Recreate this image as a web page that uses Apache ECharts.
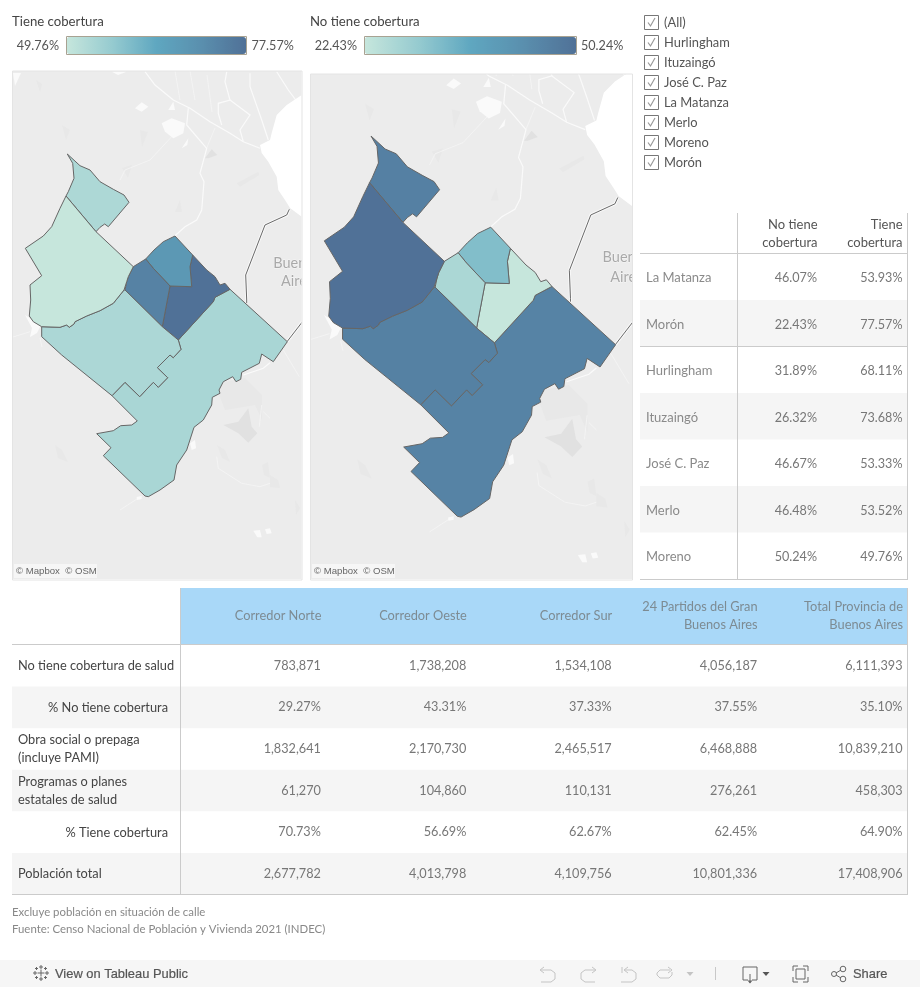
<!DOCTYPE html>
<html><head><meta charset="utf-8">
<script src="https://cdn.jsdelivr.net/npm/echarts@6/dist/echarts.min.js"></script>
<style>html,body{margin:0;padding:0;background:#fff}#c{width:920px;height:987px}</style>
</head><body><div id="c"></div>
<script>
const FONT = 'Lato';
// ---- data ----
const partidos = ['La Matanza','Morón','Hurlingham','Ituzaingó','José C. Paz','Merlo','Moreno'];
const noTiene = [46.07,22.43,31.89,26.32,46.67,46.48,50.24];
const tiene = [53.93,77.57,68.11,73.68,53.33,53.52,49.76];
const filterItems = ['(All)','Hurlingham','Ituzaingó','José C. Paz','La Matanza','Merlo','Moreno','Morón'];
const corredores = ['Corredor Norte','Corredor Oeste','Corredor Sur','24 Partidos del Gran\nBuenos Aires','Total Provincia de\nBuenos Aires'];
const filas = ['No tiene cobertura de salud','% No tiene cobertura','Obra social o prepaga\n(incluye PAMI)','Programas o planes\nestatales de salud','% Tiene cobertura','Población total'];
const sinCobertura = [783871,1738208,1534108,4056187,6111393];
const pctSin = [29.27,43.31,37.33,37.55,35.10];
const obraSocial = [1832641,2170730,2465517,6468888,10839210];
const programas = [61270,104860,110131,276261,458303];
const pctCon = [70.73,56.69,62.67,62.45,64.90];
const poblacion = [2677782,4013798,4109756,10801336,17408906];
// partido outlines, in map units
const bMoreno = [[66,196],[96,231.7],[133.3,266.7],[128.3,276.7],[126.7,281.7],[124,290],[113.3,303.3],[100,310.7],[86.7,316],[75,321.7],[74,324],[69.3,327.3],[66.7,325],[60,327.3],[41.7,326.7],[33.3,321.7],[29.3,316],[30.7,300],[30,285],[41.7,275.7],[25.3,248.3],[43.3,236],[51.7,226.7],[60,208.3]];
const bJose = [[67.3,154],[72.7,163.3],[74,178.3],[68.3,191.7],[66,196],[96,231.7],[100,227.3],[104.7,224],[108.3,226.7],[129,202.3],[124,195],[113.3,189.3],[100,181.7],[90,170],[80,165.7]];
const bHurlingham = [[175,236],[192.7,255],[190,266.7],[191.7,286.7],[170,286],[153.3,268.3],[145.7,259],[154,250],[163.3,241.7]];
const bItuzaingo = [[133.3,266.7],[145.7,259],[153.3,268.3],[170,286],[162.3,326.7],[125,290],[126.7,281.7],[128.3,276.7]];
const bMoron = [[192.7,255],[206.7,270],[215,276.7],[220,285],[225,283.3],[230,289.3],[215,297.3],[213.3,301.7],[178.3,340],[162.3,326.7],[170,286],[191.7,286.7],[190,266.7]];
const bMatanza = [[230,289.3],[287.3,341.7],[273.3,361.7],[261.7,354],[259.3,363.3],[241.7,372.3],[240.7,379.3],[236,381.7],[232.7,376.7],[223.3,381.7],[219,390],[220,393.3],[212.3,397.3],[211.7,405],[203.3,420],[194,427.3],[186.7,450],[176.7,465],[174,480],[160,490],[148.3,496.7],[145,496],[103.3,455.7],[111,447.7],[96.7,433.7],[113.3,430.7],[120.7,425.7],[131.7,425],[137.3,421],[112,395.7],[125,382.3],[139.7,396.7],[153.3,382.3],[158.3,387.3],[167.7,377.7],[157.3,367.7],[170,355],[173.3,357.7],[181,349.3],[178.3,340],[213.3,301.7],[215,297.3]];
const bMerlo = [[125,290],[162.3,326.7],[178.3,340],[181,349.3],[173.3,357.7],[170,355],[157.3,367.7],[167.7,377.7],[158.3,387.3],[153.3,382.3],[139.7,396.7],[125,382.3],[112,395.7],[61.7,355],[41.7,336.7],[41.7,326.7],[60,327.3],[66.7,325],[69.3,327.3],[74,324],[75,321.7],[86.7,316],[100,310.7],[113.3,303.3],[124,290]];
const outlines = {'La Matanza':bMatanza,'Morón':bMoron,'Hurlingham':bHurlingham,'Ituzaingó':bItuzaingo,'José C. Paz':bJose,'Merlo':bMerlo,'Moreno':bMoreno};
// base map features, in the same map units
const rio = [[304,93],[301.7,95],[286.7,105],[276.7,115],[271.7,133],[270,140],[260,145],[261.7,153],[268.3,161.7],[276.7,176.7],[278.3,190],[285,200],[290,208],[301.7,216.7],[304,217]];
const arroyos = [
 [[145,71.7],[155,85],[173.3,100],[190,108.3],[210,121.7],[230,133.3],[243.3,141.7],[260,148.3]],
 [[188.3,108.3],[186.7,125],[206.7,148.3],[200,173.3],[204,181.7],[201.7,210],[196.7,220],[185,226.7],[175,235.7]],
 [[226.7,71.7],[225,81.7],[230,100],[218.3,103.3],[218.3,113.3],[221.7,125]],
 [[250,73.3],[250,86.7],[261.7,120],[268.3,140]],
 [[230,100],[250,115],[240,130],[243.3,141.7]],
 [[276.7,71.7],[288.3,90],[298,103]],
 [[243.3,375],[263.3,368.3],[270,362.7]]
];
const arroyosFinos = [[[215,128],[206.7,148]],[[171.7,136.7],[150,160],[125,170],[120,180]],[[175,71],[180,100]],[[190,71],[195,100]],[[207,75],[212,112]],
 [[216.7,456.7],[218.3,468.3],[241.7,483.3],[260,486.7],[270,483.3]],[[261.7,405],[259.3,426.7]],[[263.3,411.7],[270,418.3]],[[283.3,350],[299.3,376.7]],
 [[13,337],[30,331.7]],[[40,338],[42,347]],[[120,510],[140,497]]];
const manchasBlancas = [
 [[161.7,123.3],[171.7,118.3],[185,123.3],[183.3,133.3],[173.3,138.3],[165,131.7]],
 [[181.7,148.3],[188.3,138.3],[187.3,145]],
 [[135,108.3],[141.7,102.3],[148.3,106.7],[141.7,111.7]],
 [[168.3,110],[173.3,101.7],[175,110]],
 [[13,73],[21,73],[15,86]],
 [[111.7,71.7],[126.7,71.7],[118,75]],
 [[25,315],[33,320],[41,325],[37,333],[30,337],[32,328]],
 [[190,443.3],[195,440],[196,448.3],[191.7,450]],
 [[253.3,530.7],[260,530],[261.7,537.3],[257.3,537.3]],
 [[265,529.3],[270,528.3],[271.7,533.3],[266.7,534]],
 [[136.7,497],[141.7,496],[141.7,499],[137,500]]
];
const manchasGrises = [
 [[223.3,425],[238.3,421.7],[248.3,408.3],[251.7,426.7],[257.3,433.3],[248.3,442.7],[238.3,433.3]],
 [[205,158.3],[211.7,149.3],[217.3,155],[208.3,158.3]]
];
const manchasSuaves = [
 [[236.7,183.3],[258.3,171.7],[259.3,175],[240,186.7]],
 [[215,384],[245,378],[262,395],[262,420],[255,405],[225,410]],
 [[55,445],[62,450],[68,462],[58,458]],
 [[217,445],[225,450],[230,462],[222,458]],
 [[262,465],[268,462],[270,478],[264,475]],
 [[270,475],[278,480],[280,488],[270,487]],
 [[175,212],[180,200],[182,212]],
 [[140,130],[148,132],[142,147]],
 [[122,168],[132,165],[128,178]],
 [[62,125],[70,130],[66,140]],
 [[36,80],[42,84],[40,92]],
 [[110,430],[116,436],[112,442]],
 [[295,500],[300,508],[296,515]]
];
const autopistas = [[[289.3,209.3],[286.7,215],[265,225],[245.7,275],[246.7,300],[246.7,303]],[[287,341.7],[303,321]]];
const textoCiudad = [['Buenos',297,263],['Aires',297,281]];

// ---- map geometry ----
const toFeature = n => ({type:'Feature',properties:{name:n},geometry:{type:'Polygon',coordinates:[outlines[n].concat([outlines[n][0]]).map(p=>[p[0],-p[1]])]}});
const geoJson = {type:'FeatureCollection',features:partidos.map(toFeature)};
echarts.registerMap('partidosA',geoJson);
echarts.registerMap('partidosB',geoJson);
echarts.registerMap('base',geoJson);

const ramp = ['#c6e6dc','#96cbd0','#5fa7c0','#5a8fae','#507197'];
const panels = [
 {x:13,y:71,w:288.5,h:508,left:25.3,top:154,width:262,height:342.7},
 {x:311,y:74,w:321,h:505,left:324.3,top:136,width:291.3,height:381.1}
];

function basemapSeries(i){
 const P = panels[i];
 return {type:'custom',coordinateSystem:'geo',geoIndex:i,z:1,silent:true,data:[[150,-300]],
  renderItem:(params,api)=>{
   const c = a=>a.map(p=>api.coord([p[0],-p[1]]));
   const kids = [{type:'rect',shape:{x:P.x,y:P.y,width:P.w,height:P.h},style:{fill:'#ececec'}}];
   manchasSuaves.forEach(a=>kids.push({type:'polygon',shape:{points:c(a)},style:{fill:'#e8e8e8'}}));
   manchasGrises.forEach(a=>kids.push({type:'polygon',shape:{points:c(a)},style:{fill:'#e1e1e1'}}));
   arroyosFinos.forEach(a=>kids.push({type:'polyline',shape:{points:c(a)},style:{stroke:'#f6f6f6',lineWidth:0.7,fill:null}}));
   arroyos.forEach(a=>kids.push({type:'polyline',shape:{points:c(a)},style:{stroke:'#fafafa',lineWidth:1.2,fill:null}}));
   manchasBlancas.forEach(a=>kids.push({type:'polygon',shape:{points:c(a)},style:{fill:'#fafafa'}}));
   kids.push({type:'polygon',shape:{points:c(rio)},style:{fill:'#ffffff'}});
   autopistas.forEach(a=>{
    kids.push({type:'polyline',shape:{points:c(a)},style:{stroke:'#f8f8f8',lineWidth:3,fill:null}});
    kids.push({type:'polyline',shape:{points:c(a)},style:{stroke:'#6a6a6a',lineWidth:1,fill:null}});
   });
   textoCiudad.forEach(t=>{const q=api.coord([t[1],-t[2]]);
    kids.push({type:'text',x:q[0],y:q[1],style:{text:t[0],fill:'#a9a9a9',font:'14.5px '+FONT,stroke:'#f6f6f6',lineWidth:1,align:'center',verticalAlign:'middle'}});});
   return {type:'group',clipPath:{type:'rect',shape:{x:P.x,y:P.y,width:P.w,height:P.h}},children:kids};
  }};
}
function mapSeries(i,name,vals){
 const P = panels[i];
 return {type:'map',map:name,z:3,left:P.left,top:P.top,width:P.width,height:P.height,aspectScale:1,roam:false,silent:true,
  label:{show:false},emphasis:{disabled:true},select:{disabled:true},
  itemStyle:{borderColor:'#666666',borderWidth:1},
  data:partidos.map((n,k)=>({name:n,value:vals[k]}))};
}
const pct = v=>v.toFixed(2)+'%';
const num = v=>v.toLocaleString('en-US');

// upper table (axes 0), lower table (axes 1)
const upCells = [];
partidos.forEach((n,r)=>{upCells.push([0,r,noTiene[r]]);upCells.push([1,r,tiene[r]]);});
const lowRows = [[sinCobertura,num],[pctSin,pct],[obraSocial,num],[programas,num],[pctCon,pct],[poblacion,num]];
const lowCells = [];
lowRows.forEach((row,r)=>row[0].forEach((v,c)=>lowCells.push([c,r,v])));

function bandSeries(ax,labels,bandOn,leftExt,labelFn){
 return {type:'custom',coordinateSystem:'cartesian2d',xAxisIndex:ax,yAxisIndex:ax,z:2,silent:true,
  data:labels.map((l,r)=>[0,r]),
  renderItem:(params,api)=>{
   const r=api.value(1), y=api.coord([0,r])[1], h=api.size([0,1])[1], cs=params.coordSys;
   const kids=[];
   if(bandOn(r)) kids.push({type:'rect',shape:{x:cs.x-leftExt,y:y-h/2,width:cs.width+leftExt,height:h},style:{fill:'#f5f5f5'}});
   kids.push(labelFn(labels[r],r,y,cs));
   return {type:'group',children:kids};
  }};
}
function cellSeries(ax,cells,fmt,color,yoff,size){
 return {type:'custom',coordinateSystem:'cartesian2d',xAxisIndex:ax,yAxisIndex:ax,z:3,silent:true,
  data:cells,
  renderItem:(params,api)=>{
   const c=api.value(0),r=api.value(1),p=api.coord([c,r]),w=api.size([1,0])[0];
   return {type:'text',x:p[0]+w/2-5.5,y:p[1]+yoff,style:{text:fmt(api.value(2),r),fill:color,font:size+'px '+FONT,align:'right',verticalAlign:'middle'}};
  }};
}
const g = [];
const line=(x1,y1,x2,y2,col)=>g.push({type:'line',z:20,silent:true,shape:{x1,y1,x2,y2},style:{stroke:col||'#cbcbcb',lineWidth:1}});
const txt=(text,x,y,o)=>g.push({type:'text',z:20,silent:true,x,y,style:Object.assign({text,fill:'#666',font:'12.8px '+FONT,verticalAlign:'middle'},o||{})});
const poly=(pts,o)=>g.push({type:'polyline',z:21,silent:true,shape:{points:pts},style:Object.assign({stroke:'#777',lineWidth:1,fill:null},o||{})});
const tri=(x,y,s,col)=>g.push({type:'polygon',z:21,silent:true,shape:{points:[[x-s,y-s*0.6],[x+s,y-s*0.6],[x,y+s*0.6]]},style:{fill:col}});

// panel frames & legend frames
[[12.5,71,289.5,509],[310.5,74,322,506]].forEach(r=>g.push({type:'rect',z:20,silent:true,shape:{x:r[0],y:r[1],width:r[2],height:r[3]},style:{fill:null,stroke:'#e4e4e4',lineWidth:1}}));
[[66.5,36.5,180,18],[364.5,36.5,212,18]].forEach(r=>g.push({type:'rect',z:20,silent:true,shape:{x:r[0],y:r[1],width:r[2],height:r[3]},style:{fill:null,stroke:'#a8a292',lineWidth:1}}));
txt('Tiene cobertura',12,21.5,{fill:'#444',font:'13.2px '+FONT});
txt('No tiene cobertura',310,21.5,{fill:'#444',font:'13.2px '+FONT});
txt(pct(Math.min(...tiene)),59,45.5,{align:'right',fill:'#555',font:'12.6px '+FONT});
txt(pct(Math.max(...tiene)),251.5,45.5,{fill:'#555',font:'12.6px '+FONT});
txt(pct(Math.min(...noTiene)),357,45.5,{align:'right',fill:'#555',font:'12.6px '+FONT});
txt(pct(Math.max(...noTiene)),581,45.5,{fill:'#555',font:'12.6px '+FONT});
// attributions
[[14,564,83],[312,564,83]].forEach(r=>{
 g.push({type:'rect',z:20,silent:true,shape:{x:r[0],y:r[1],width:r[2],height:14},style:{fill:'#f6f6f6'}});
 txt('© Mapbox  © OSM',r[0]+2,r[1]+7.5,{font:'9.6px "Liberation Sans"',fill:'#666'});
});
// filter
filterItems.forEach((t,i)=>{
 const y=22.5+20*i;
 g.push({type:'rect',z:20,silent:true,shape:{x:644.5,y:y-7,width:14,height:14},style:{fill:'#fff',stroke:'#777',lineWidth:1}});
 poly([[648,y],[650.5,y+3.5],[655,y-4.5]],{stroke:'#999',lineWidth:1.2});
 txt(t,664,y,{fill:'#555',font:'12.9px '+FONT});
});
// table rules
line(640,253.5,908,253.5);line(640,346.5,908,346.5);line(640,579.5,908,579.5);
line(737.5,213,737.5,580);line(907.5,213,907.5,580);
g.push({type:'rect',z:1,silent:true,shape:{x:181,y:588,width:727,height:56},style:{fill:'#a9d8f8'}});
line(12,644.5,908,644.5);line(12,894.5,908,894.5);
line(180.5,588,180.5,895);line(907.5,588,907.5,895);
// headers
txt('No tiene\ncobertura',817.5,234,{align:'right',fill:'#555',lineHeight:18,font:'13px '+FONT});
txt('Tiene\ncobertura',902.5,234,{align:'right',fill:'#555',lineHeight:18,font:'13px '+FONT});
// notes
txt('Excluye población en situación de calle',12,912,{font:'11.4px '+FONT,fill:'#888'});
txt('Fuente: Censo Nacional de Población y Vivienda 2021 (INDEC)',12,929,{font:'11.4px '+FONT,fill:'#888'});
// footer bar
g.push({type:'rect',z:1,silent:true,shape:{x:0,y:960,width:920,height:27},style:{fill:'#f6f6f6'}});
txt('View on Tableau Public',55,974,{font:'12.9px "Liberation Sans"',fill:'#555',stroke:'#555',lineWidth:0.2});
txt('Share',853,974,{font:'12.9px "Liberation Sans"',fill:'#555',stroke:'#555',lineWidth:0.2});
// tableau mark
[[41,973,3.5],[35,973,2],[47,973,2],[41,967,2],[41,979,2],[36.5,968.5,1.5],[45.5,968.5,1.5],[36.5,977.5,1.5],[45.5,977.5,1.5]].forEach(m=>{
 line(m[0]-m[2],m[1],m[0]+m[2],m[1],'#666');line(m[0],m[1]-m[2],m[0],m[1]+m[2],'#666');
});
// toolbar glyphs
const lite={stroke:'#c4c4c4',lineWidth:1};
poly([[541,970],[551,970],[555,973],[555,979],[551,982],[541,982]],lite);poly([[544,967],[540,970],[544,973]],lite);
poly([[595,970],[585,970],[581,973],[581,979],[585,982],[595,982]],lite);poly([[592,967],[596,970],[592,973]],lite);
poly([[622,967],[622,973]],lite);poly([[628,967],[624,970],[628,973]],lite);poly([[625,970],[632,970],[636,973],[636,979],[632,982],[621,982]],lite);
poly([[670,970],[660,970],[657,973],[657,975],[660,978],[669,978],[672,975],[672,972]],lite);poly([[668,967],[672,970],[668,973]],lite);
tri(690,974,3.5,'#c4c4c4');
line(715.5,967,715.5,980,'#c8c8c8');
const dk={stroke:'#666',lineWidth:1};
poly([[748,980],[743,980],[743,967],[757,967],[757,980],[752,980]],dk);poly([[750,974],[750,983]],dk);tri(750,982,2.5,'#666');
tri(766,974,3.5,'#555');
poly([[793,971],[793,966],[798,966]],dk);poly([[803,966],[808,966],[808,971]],dk);poly([[808,977],[808,982],[803,982]],dk);poly([[798,982],[793,982],[793,977]],dk);
g.push({type:'rect',z:21,silent:true,shape:{x:796,y:969,width:9,height:10},style:{fill:null,stroke:'#666',lineWidth:1}});
[[834,974,2.5],[843,969,2.8],[843,979,2.8]].forEach(c=>g.push({type:'circle',z:21,silent:true,shape:{cx:c[0],cy:c[1],r:c[2]},style:{fill:null,stroke:'#666',lineWidth:1}}));
poly([[836,973],[841,970]],dk);poly([[836,975],[841,978]],dk);

const option = {
 animation:false,backgroundColor:'#fff',textStyle:{fontFamily:FONT},
 geo:panels.map(P=>({map:'base',left:P.left,top:P.top,width:P.width,height:P.height,aspectScale:1,roam:false,silent:true,z:0,
   itemStyle:{areaColor:'transparent',borderColor:'transparent',borderWidth:0},emphasis:{disabled:true},label:{show:false}})),
 visualMap:[
  {type:'continuous',seriesIndex:2,min:Math.min(...tiene),max:Math.max(...tiene),calculable:false,orient:'horizontal',left:67,top:37,itemWidth:17,itemHeight:179,padding:0,inRange:{color:ramp},showLabel:false,hoverLink:false,realtime:false},
  {type:'continuous',seriesIndex:3,min:Math.min(...noTiene),max:Math.max(...noTiene),calculable:false,orient:'horizontal',left:365,top:37,itemWidth:17,itemHeight:211,padding:0,inRange:{color:ramp},showLabel:false,hoverLink:false,realtime:false}
 ],
 grid:[
  {left:737,top:253.5,width:171,height:325.5},
  {left:181,top:645,width:727,height:249.5}
 ],
 xAxis:[
  {type:'category',gridIndex:0,data:['No tiene cobertura','Tiene cobertura'],show:false},
  {type:'category',gridIndex:1,data:corredores,show:false}
 ],
 yAxis:[
  {type:'category',gridIndex:0,data:partidos,inverse:true,show:false},
  {type:'category',gridIndex:1,data:filas,inverse:true,show:false}
 ],
 graphic:{elements:g},
 series:[
  basemapSeries(0),basemapSeries(1),
  mapSeries(0,'partidosA',tiene),mapSeries(1,'partidosB',noTiene),
  bandSeries(0,partidos,r=>r%2===1,97,(t,r,y,cs)=>({type:'text',x:646,y:y+1.5,style:{text:t,fill:'#8a8a8a',font:'13px '+FONT,verticalAlign:'middle'}})),
  cellSeries(0,upCells,pct,'#777',1.2,12.6),
  bandSeries(1,filas,r=>r%2===1,169,(t,r,y,cs)=>{
    const right=(r===1||r===4);
    return {type:'text',x:right?168:18,y:y+(right?0.5:0),style:{text:t,fill:'#444',font:'12.8px '+FONT,align:right?'right':'left',verticalAlign:'middle',lineHeight:18}};
  }),
  cellSeries(1,lowCells,(v,r)=>lowRows[r][1](v),'#777',0,12.7),
  {type:'custom',coordinateSystem:'cartesian2d',xAxisIndex:1,yAxisIndex:1,z:4,silent:true,data:corredores.map((c,i)=>[i,0]),
   renderItem:(params,api)=>{
    const i=api.value(0),p=api.coord([i,0]),w=api.size([1,0])[0];
    return {type:'text',x:p[0]+w/2-5,y:616,style:{text:corredores[i],fill:'#7d8b93',font:'12.8px '+FONT,align:'right',verticalAlign:'middle',lineHeight:18}};
   }}
 ]
};
const chart = echarts.init(document.getElementById('c'),null,{renderer:'canvas'});
chart.setOption(option);
</script></body></html>
